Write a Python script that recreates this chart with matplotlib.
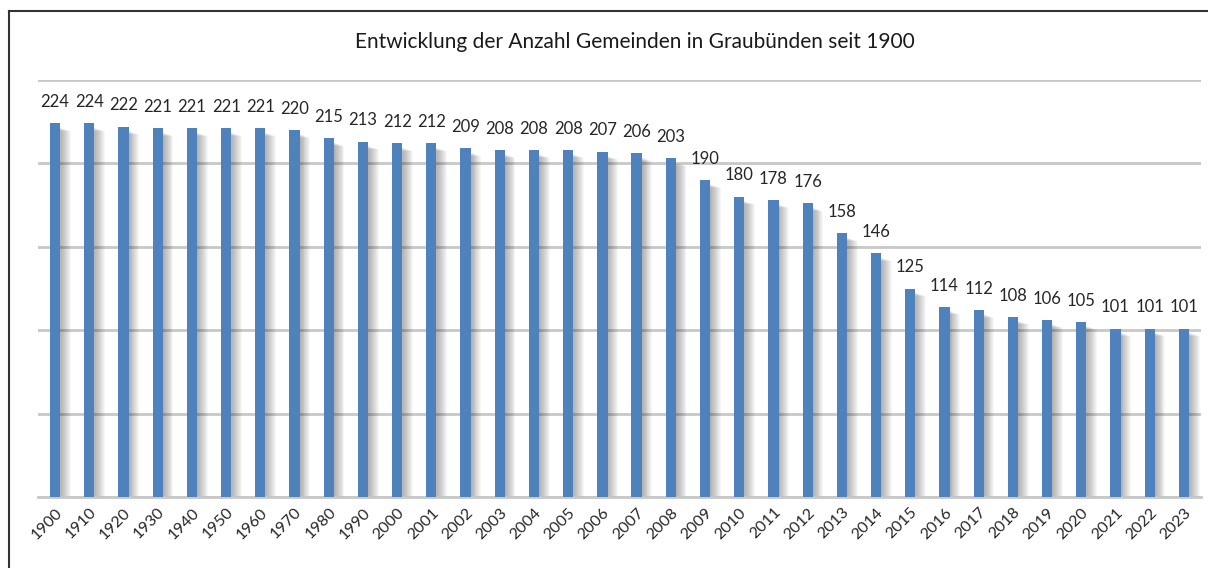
import numpy as np
import matplotlib
matplotlib.use("Agg")
import matplotlib.pyplot as plt
from matplotlib.lines import Line2D

plt.rcParams['font.family'] = ['Lato', 'DejaVu Sans']

# data
years = ['1900', '1910', '1920', '1930', '1940', '1950', '1960', '1970', '1980', '1990',
         '2000', '2001', '2002', '2003', '2004', '2005', '2006', '2007', '2008', '2009',
         '2010', '2011', '2012', '2013', '2014', '2015', '2016', '2017', '2018', '2019',
         '2020', '2021', '2022', '2023']
gemeinden = [224, 224, 222, 221, 221, 221, 221, 220, 215, 213,
             212, 212, 209, 208, 208, 208, 207, 206, 203, 190,
             180, 178, 176, 158, 146, 125, 114, 112, 108, 106,
             105, 101, 101, 101]
title = 'Entwicklung der Anzahl Gemeinden in Graubünden seit 1900'

bar_color = '#4F81BD'
grid_color = '#C8C8C8'

fig = plt.figure(figsize=(12.08, 5.68), dpi=100)
ax = fig.add_axes([38 / 1208, 1 - 497 / 568, (1201 - 38) / 1208, (497 - 80) / 568])

x = np.arange(len(years))
w = 0.3

# soft shadow to the right of each bar (stacked translucent copies)
vals = np.array(gemeinden)
for k in range(1, 12):
    ax.bar(x + k * 0.028, vals - 0.8 - 0.25 * k, width=w, bottom=-1.5 + 0.05 * k,
           color='#202020', alpha=0.035, linewidth=0, zorder=1)

ax.bar(x, gemeinden, width=w, color=bar_color, linewidth=0, zorder=3)

for xi, v in zip(x, gemeinden):
    ax.text(xi, v + 8, str(v), ha='center', va='bottom', fontsize=12,
            color='#262626', zorder=4)

ax.set_xlim(-0.5, len(years) - 0.5)
ax.set_ylim(0, 250)
ax.set_yticks([0, 50, 100, 150, 200, 250])
ax.yaxis.grid(True, color=grid_color, linewidth=2, zorder=0)
ax.set_axisbelow(True)
ax.tick_params(axis='y', left=False, labelleft=False)
ax.tick_params(axis='x', length=0, pad=6)
ax.set_xticks(x)
ax.set_xticklabels(years, rotation=45, ha='right', va='top', rotation_mode='anchor',
                   fontsize=11.5, color='#262626')
for s in ['top', 'right', 'left']:
    ax.spines[s].set_visible(False)
ax.spines['bottom'].set_color(grid_color)
ax.spines['bottom'].set_linewidth(2)
ax.patch.set_alpha(0)

fig.text(635 / 1208, 1 - 42 / 568, title, ha='center', va='center',
         fontsize=15, color='#1a1a1a')

# outer frame (left and top edges)
fig.add_artist(Line2D([9 / 1208, 9 / 1208], [0, 1 - 11 / 568], color='#333333',
                      linewidth=1.5, transform=fig.transFigure))
fig.add_artist(Line2D([9 / 1208, 1], [1 - 11 / 568, 1 - 11 / 568], color='#333333',
                      linewidth=1.5, transform=fig.transFigure))

fig.savefig('out.png', dpi=100)
